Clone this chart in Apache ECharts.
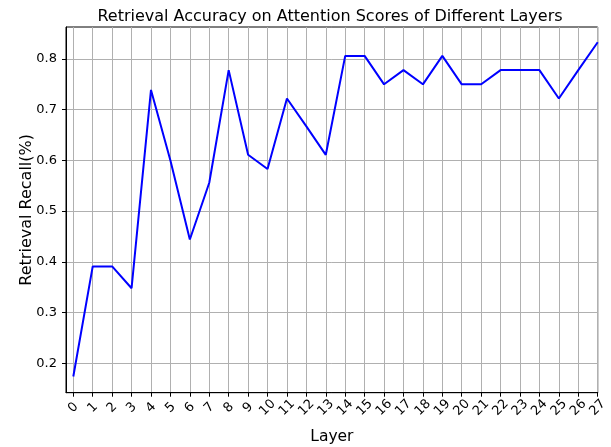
<!DOCTYPE html>
<html>
<head>
<meta charset="utf-8">
<script src="https://cdn.jsdelivr.net/npm/echarts@6/dist/echarts.min.js"></script>
<style>html,body{margin:0;padding:0;background:#fff;}#c{width:611px;height:447px;}</style>
</head>
<body>
<div id="c"></div>
<script>
const layers = [0,1,2,3,4,5,6,7,8,9,10,11,12,13,14,15,16,17,18,19,20,21,22,23,24,25,26,27];
const recall = [0.174,0.391,0.391,0.348,0.739,0.600,0.444,0.556,0.778,0.611,0.583,0.722,0.667,0.611,0.806,0.806,0.750,0.778,0.750,0.806,0.750,0.750,0.778,0.778,0.778,0.722,0.778,0.833];
const yTicks = [0.2,0.3,0.4,0.5,0.6,0.7,0.8];
const titleText = 'Retrieval Accuracy on Attention Scores of Different Layers';
const xName = 'Layer';
const yName = 'Retrieval Recall(%)';

const FONT = 'DejaVu Sans';
const chart = echarts.init(document.getElementById('c'), null, {renderer: 'canvas'});
chart.setOption({
  animation: false,
  backgroundColor: '#ffffff',
  title: {
    text: titleText, left: 325, top: 4, textAlign: 'center',
    textStyle: {fontFamily: FONT, fontSize: 16, fontWeight: 'normal', color: '#000'}
  },
  grid: {left: 66, right: 13.3, top: 27, bottom: 54.3, outerBoundsMode: 'none', containLabel: false, show: true, borderColor: '#000', borderWidth: 1, backgroundColor: 'transparent'},
  xAxis: {
    type: 'value', min: -0.376, max: 27,
    name: xName, nameLocation: 'middle', nameGap: 36, nameMoveOverlap: false,
    nameTextStyle: {fontFamily: FONT, fontSize: 15.5, color: '#000'},
    axisLine: {show: true, onZero: false, lineStyle: {color: '#000', width: 1}},
    axisTick: {show: true, length: 4, lineStyle: {color: '#000'}, customValues: layers},
    axisLabel: {customValues: layers, rotate: 45, align: 'center', verticalAlign: 'middle', margin: 15, fontFamily: FONT, fontSize: 13, color: '#000'},
    splitLine: {show: true, lineStyle: {color: '#b0b0b0', width: 1}}
  },
  yAxis: {
    type: 'value', min: 0.142, max: 0.863,
    name: yName, nameLocation: 'middle', nameGap: 31, nameRotate: 90, nameMoveOverlap: false,
    nameTextStyle: {fontFamily: FONT, fontSize: 16, color: '#000'},
    axisLine: {show: true, onZero: false, lineStyle: {color: '#000', width: 1}},
    axisTick: {show: true, length: 4, lineStyle: {color: '#000'}, customValues: yTicks},
    axisLabel: {customValues: yTicks, margin: 9, fontFamily: FONT, fontSize: 13, color: '#000', formatter: v => v.toFixed(1)},
    splitLine: {show: true, lineStyle: {color: '#b0b0b0', width: 1}}
  },
  series: [{
    type: 'line', data: layers.map((l, i) => [l, recall[i]]),
    showSymbol: false, lineStyle: {color: '#0000ff', width: 2}, itemStyle: {color: '#0000ff'}
  }]
});
</script>
</body>
</html>
